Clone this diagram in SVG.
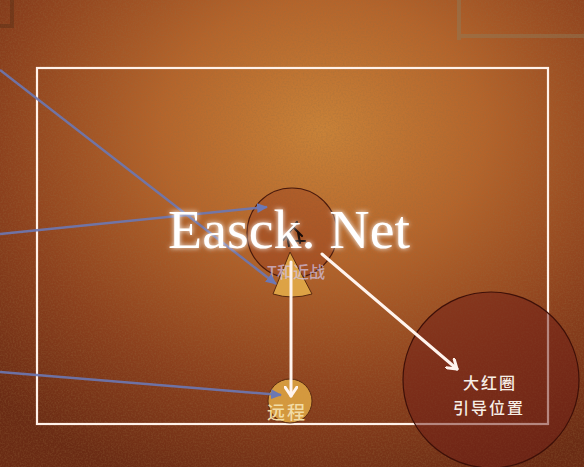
<svg xmlns="http://www.w3.org/2000/svg" width="584" height="467" viewBox="0 0 584 467">
<style>
.blue{fill:none;stroke:#6c78b4;stroke-width:2.5;stroke-opacity:0.9}
.white{fill:none;stroke:#fff4ee;stroke-width:3;stroke-linecap:round}
.lbl{font-family:"Noto Sans CJK SC","Noto Sans CJK JP",sans-serif;font-weight:500}
</style>
<defs>
<radialGradient id="bg" cx="0.55" cy="0.28" r="0.8">
<stop offset="0" stop-color="#c98238"/>
<stop offset="0.35" stop-color="#b4642b"/>
<stop offset="0.7" stop-color="#8c401d"/>
<stop offset="1" stop-color="#6a2b14"/>
</radialGradient>
<filter id="noise" x="0" y="0" width="100%" height="100%">
<feTurbulence type="fractalNoise" baseFrequency="0.6" numOctaves="2" seed="3"/>
<feColorMatrix type="matrix" values="0 0 0 0 0.3  0 0 0 0 0.15  0 0 0 0 0.05  0 0 0 1.2 -0.45"/>
</filter>
<filter id="glow" x="-10%" y="-30%" width="120%" height="160%">
<feGaussianBlur stdDeviation="2.5" result="b"/>
<feMerge><feMergeNode in="b"/><feMergeNode in="SourceGraphic"/></feMerge>
</filter>
<marker id="wArrow" markerWidth="14" markerHeight="14" refX="10" refY="7" orient="auto" markerUnits="userSpaceOnUse">
<path d="M1,1 L10,7 L1,13" fill="none" stroke="#fff4ee" stroke-width="3" stroke-linecap="round" stroke-linejoin="round"/>
</marker>
<marker id="bArrow" markerWidth="12" markerHeight="10" refX="10" refY="5" orient="auto" markerUnits="userSpaceOnUse">
<path d="M0,0 L11,5 L0,10 Z" fill="#6c78b4"/>
</marker>
</defs>

<rect width="584" height="467" fill="url(#bg)"/>
<rect width="584" height="467" filter="url(#noise)" opacity="0.5"/>

<g id="decor" fill="none" stroke="#8e7c5c" stroke-opacity="0.45" stroke-width="4">
<path d="M459,0 V40 M459,36 H584"/>
<path d="M0,26 H12 V0" stroke="#4a2a14" stroke-opacity="0.35"/>
</g>

<rect id="frame" x="37" y="68" width="511" height="356" fill="none" stroke="#fff2ea" stroke-width="2.2"/>

<g id="bigCircle">
<circle cx="491" cy="380" r="88" fill="#6e1c16" fill-opacity="0.5" stroke="#3e1008" stroke-width="1.2"/>
<text class="lbl" x="490" y="389" font-size="16" fill="#f6eee6" text-anchor="middle" letter-spacing="2">大红圈</text>
<text class="lbl" x="489" y="414" font-size="16" fill="#f6eee6" text-anchor="middle" letter-spacing="2">引导位置</text>
</g>

<g id="tank">
<circle cx="292" cy="233" r="45" fill="#8a2a18" fill-opacity="0.3" stroke="#4a1a0c" stroke-width="1.2"/>
<path d="M290,252 L273,294 Q292,300 312,294 Z" fill="#eab44c" fill-opacity="0.8" stroke="#5a2a10" stroke-width="1"/>
<path d="M283,240 L297,222 M294,228 L302,236 M287,235 L289,246 M298,232 L300,243 M296,241 L305,241" stroke="#1a0c08" stroke-width="2.2" fill="none" stroke-linecap="round"/>
<text class="lbl" x="296" y="278" font-size="16" fill="#d4c8ec" fill-opacity="0.7" text-anchor="middle">T和近战</text>
</g>

<g id="ranged">
<circle cx="290" cy="401" r="22" fill="#e0a844" fill-opacity="0.85" stroke="#5a2a10" stroke-width="1"/>
<text class="lbl" x="287" y="419" font-size="18" fill="#f2dca6" text-anchor="middle" letter-spacing="2">远程</text>
</g>

<g id="connectors">
<path class="blue" d="M0,70 L276,284" marker-end="url(#bArrow)"/>
<path class="blue" d="M0,234 L267,207" marker-end="url(#bArrow)"/>
<path class="blue" d="M0,372 L281,395" marker-end="url(#bArrow)"/>
<path class="white" d="M291,262 L291,396" marker-end="url(#wArrow)"/>
<path class="white" d="M322,254 L457,369" marker-end="url(#wArrow)"/>
</g>

<text id="watermark" x="168" y="248" font-family="Liberation Serif, serif" font-size="54" fill="#ffffff" textLength="242" lengthAdjust="spacingAndGlyphs" filter="url(#glow)">Easck. Net</text>
</svg>
